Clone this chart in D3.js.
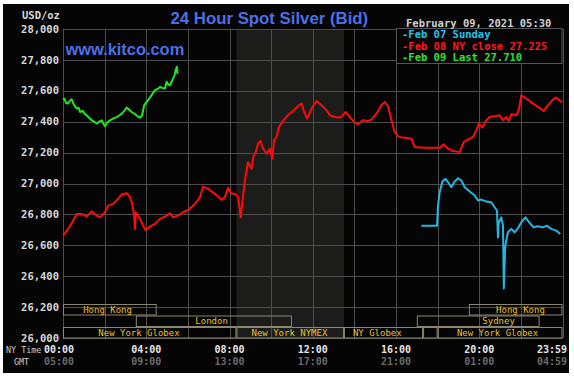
<!DOCTYPE html>
<html>
<head>
<meta charset="utf-8">
<script src="https://cdn.jsdelivr.net/npm/d3@7"></script>
<style>
  html, body { margin: 0; padding: 0; background: #ffffff; }
  svg { display: block; }
</style>
</head>
<body>
<svg id="chart" width="574" height="382"></svg>
<script>
// ---------- DATA ----------
const yTicks = [26000, 26200, 26400, 26600, 26800, 27000, 27200, 27400, 27600, 27800, 28000];
const xTickHours = [0, 4, 8, 12, 16, 20, 24];
const nyTimeLabels = ["00:00", "04:00", "08:00", "12:00", "16:00", "20:00", "23:59"];
const gmtLabels = ["05:00", "09:00", "13:00", "17:00", "21:00", "01:00", "04:59"];

// Feb 09 (green) – hours / USD
const greenHours = [0.00, 0.06, 0.15, 0.23, 0.33, 0.42, 0.52, 0.66, 0.75, 0.82, 0.95, 1.05, 1.14, 1.25, 1.38, 1.50, 1.62, 1.74, 1.86, 1.95, 2.02, 2.12, 2.26, 2.40, 2.58, 2.70, 2.82, 2.95, 3.06, 3.18, 3.30, 3.45, 3.58, 3.70, 3.80, 3.90, 4.00, 4.09, 4.25, 4.42, 4.55, 4.66, 4.78, 4.90, 4.98, 5.06, 5.14, 5.22, 5.29, 5.36, 5.41, 5.47, 5.50];
const greenValues = [27545, 27550, 27520, 27517, 27535, 27545, 27510, 27485, 27490, 27463, 27470, 27450, 27441, 27425, 27409, 27400, 27388, 27400, 27409, 27385, 27370, 27395, 27409, 27420, 27430, 27440, 27452, 27470, 27491, 27478, 27463, 27450, 27435, 27426, 27440, 27506, 27525, 27539, 27570, 27604, 27612, 27625, 27618, 27615, 27658, 27640, 27636, 27660, 27680, 27700, 27734, 27755, 27710];

// Feb 08 (red) – hours / USD
const redHours = [0.00, 0.06, 0.25, 0.49, 0.66, 0.90, 1.14, 1.38, 1.62, 1.78, 2.02, 2.17, 2.41, 2.65, 2.82, 3.06, 3.22, 3.33, 3.42, 3.46, 3.50, 3.70, 3.85, 3.97, 4.18, 4.42, 4.66, 4.90, 5.14, 5.29, 5.53, 5.77, 6.01, 6.34, 6.58, 6.73, 6.97, 7.30, 7.62, 7.78, 7.93, 8.10, 8.26, 8.42, 8.54, 8.63, 8.74, 8.89, 9.06, 9.14, 9.26, 9.37, 9.49, 9.62, 9.78, 9.94, 10.06, 10.14, 10.26, 10.38, 10.57, 10.81, 11.05, 11.29, 11.46, 11.62, 11.73, 11.94, 12.18, 12.42, 12.66, 12.82, 13.14, 13.38, 13.58, 13.78, 14.02, 14.17, 14.41, 14.65, 14.82, 15.06, 15.30, 15.46, 15.62, 15.78, 15.94, 16.10, 16.34, 16.74, 16.90, 17.30, 18.10, 18.29, 18.50, 18.73, 19.06, 19.25, 19.54, 19.70, 19.86, 19.98, 20.15, 20.34, 20.50, 20.74, 20.98, 21.14, 21.30, 21.42, 21.54, 21.78, 21.90, 22.02, 22.26, 22.58, 22.82, 23.09, 23.30, 23.54, 23.70, 23.89, 23.98];
const redValues = [26665, 26673, 26706, 26760, 26803, 26803, 26786, 26820, 26792, 26781, 26814, 26857, 26868, 26901, 26929, 26937, 26911, 26868, 26792, 26706, 26814, 26771, 26727, 26699, 26721, 26738, 26771, 26786, 26807, 26781, 26792, 26814, 26829, 26868, 26911, 26980, 26965, 26933, 26894, 26911, 26972, 26933, 26933, 26911, 26781, 26890, 27019, 27138, 27095, 27171, 27203, 27258, 27275, 27225, 27193, 27225, 27160, 27279, 27301, 27366, 27405, 27442, 27470, 27500, 27517, 27452, 27420, 27485, 27534, 27506, 27474, 27442, 27427, 27431, 27463, 27431, 27392, 27383, 27409, 27405, 27413, 27452, 27506, 27528, 27500, 27409, 27333, 27305, 27297, 27290, 27236, 27232, 27232, 27253, 27225, 27210, 27203, 27268, 27290, 27301, 27344, 27388, 27362, 27409, 27431, 27435, 27442, 27409, 27431, 27405, 27448, 27442, 27474, 27571, 27550, 27517, 27496, 27470, 27506, 27543, 27556, 27534, 27525];

// Feb 07 Sunday (cyan) – hours / USD
const cyanHours = [17.22, 17.97, 18.02, 18.10, 18.23, 18.38, 18.50, 18.66, 18.82, 18.98, 19.14, 19.30, 19.54, 19.78, 19.94, 20.10, 20.34, 20.58, 20.74, 20.85, 20.90, 20.94, 21.06, 21.14, 21.18, 21.25, 21.38, 21.54, 21.70, 21.86, 22.02, 22.22, 22.42, 22.61, 22.82, 23.06, 23.25, 23.46, 23.70, 23.89];
const cyanValues = [26727, 26727, 26857, 26944, 27013, 27030, 27008, 26976, 27013, 27034, 27019, 26976, 26948, 26922, 26890, 26896, 26883, 26879, 26846, 26825, 26651, 26749, 26781, 26727, 26320, 26597, 26684, 26706, 26684, 26710, 26749, 26781, 26745, 26716, 26723, 26716, 26727, 26706, 26695, 26673];

// Trading sessions
const sessionNames = ["Hong Kong", "London", "New York Globex", "New York NYMEX", "NY Globex", "", "Sydney", "Hong Kong", "New York Globex"];
const sessionStart = [0, 3.5, 0, 8.333, 13.5, 17.3, 17.0, 19.5, 18.0];
const sessionEnd = [4.5, 11.0, 8.333, 13.5, 17.3, 18.0, 22.9, 24.0, 24.0];
const sessionRow = [0, 1, 2, 2, 2, 2, 1, 0, 2];
const sessionLabelHour = [2.14, 7.14, 3.65, 10.88, 15.1, 17.65, 20.93, 21.98, 20.88];

const nymexShade = [8.333, 13.5];
const legendLabels = ["-Feb 07 Sunday", "-Feb 08 NY close 27.225", "-Feb 09 Last 27.710"];
const titleText = "24 Hour Spot Silver (Bid)";
const dateStamp = "February 09, 2021 05:30";

// ---------- DRAW ----------
const svg = d3.select("#chart");
const mono = "'DejaVu Sans Mono', 'Liberation Mono', monospace";
const sans = "'Liberation Sans', Arial, sans-serif";

const x = d3.scaleLinear().domain([0, 24]).range([63, 562.5]);
const y = d3.scaleLinear().domain([26000, 28000]).range([338, 29]);

// background
svg.append("rect").attr("x", 3).attr("y", 4).attr("width", 566).attr("height", 369).attr("fill", "#050505");

// NYMEX shade
svg.append("rect")
  .attr("x", x(nymexShade[0])).attr("y", y(28000))
  .attr("width", x(nymexShade[1]) - x(nymexShade[0]))
  .attr("height", y(26000) - y(28000))
  .attr("fill", "#1c1c1a");

// grid
const grid = svg.append("g").attr("stroke", "#4d4d4d").attr("stroke-width", 1);
grid.selectAll("line.h").data(yTicks).join("line")
  .attr("x1", x(0)).attr("x2", x(24))
  .attr("y1", d => Math.round(y(d)) + 0.5).attr("y2", d => Math.round(y(d)) + 0.5);
grid.selectAll("line.v").data(d3.range(0, 25, 2)).join("line")
  .attr("y1", y(28000)).attr("y2", y(26000))
  .attr("x1", d => Math.round(x(d)) + 0.5).attr("x2", d => Math.round(x(d)) + 0.5);

// y tick labels
svg.append("g").selectAll("text").data(yTicks).join("text")
  .attr("x", 59).attr("y", d => y(d))
  .attr("dy", "0.35em")
  .attr("text-anchor", "end")
  .attr("font-family", mono).attr("font-weight", "bold").attr("font-size", 10.5)
  .attr("fill", "#d8d8d8")
  .text(d => d3.format(",.3f")(d / 1000).replace(".", ","));

svg.append("text").attr("x", 22).attr("y", 19)
  .attr("font-family", mono).attr("font-weight", "bold").attr("font-size", 10.5)
  .attr("fill", "#d8d8d8").text("USD/oz");

// session boxes
const rowTop = [304, 315.5, 327];
const rowH = 11.5;
const sess = svg.append("g");
sessionNames.forEach((name, i) => {
  sess.append("rect")
    .attr("x", x(sessionStart[i]) + 0.5).attr("y", rowTop[sessionRow[i]] + 0.5)
    .attr("width", x(sessionEnd[i]) - x(sessionStart[i]) - 1)
    .attr("height", rowH - 1)
    .attr("fill", "none").attr("stroke", "#8c8670").attr("stroke-width", 1);
  if (name) {
    sess.append("text")
      .attr("x", x(sessionLabelHour[i]))
      .attr("y", rowTop[sessionRow[i]] + rowH / 2)
      .attr("dy", "0.36em")
      .attr("text-anchor", "middle")
      .attr("font-family", mono).attr("font-size", 9)
      .attr("fill", "#e8c030")
      .text(name);
  }
});

// lines
const line = d3.line().x(d => x(d[0])).y(d => y(d[1]));
const series = [
  { h: cyanHours, v: cyanValues, c: "#22b6e0" },
  { h: redHours, v: redValues, c: "#ff0a0a" },
  { h: greenHours, v: greenValues, c: "#22e622" }
];
series.forEach(s => {
  svg.append("path")
    .datum(s.h.map((h, i) => [h, s.v[i]]))
    .attr("d", line)
    .attr("fill", "none").attr("stroke", s.c)
    .attr("stroke-width", 2).attr("stroke-linejoin", "round");
});

// legend box
svg.append("rect").attr("x", 396.5).attr("y", 28.5).attr("width", 165.5).attr("height", 35)
  .attr("fill", "#050505").attr("stroke", "#555555");
const legColors = ["#22c4f0", "#ff1a1a", "#33e033"];
svg.append("g").selectAll("text").data(legendLabels).join("text")
  .attr("x", 402).attr("y", (d, i) => 34.7 + i * 11.3)
  .attr("dy", "0.36em")
  .attr("font-family", mono).attr("font-weight", "bold").attr("font-size", 10.5)
  .attr("fill", (d, i) => legColors[i])
  .text(d => d);

svg.append("text").attr("x", 406).attr("y", 26.5)
  .attr("font-family", mono).attr("font-weight", "bold").attr("font-size", 10.5)
  .attr("fill", "#d0d0d0").text(dateStamp);

// title + site
svg.append("text").attr("x", 170.5).attr("y", 24)
  .attr("font-family", sans).attr("font-weight", "bold").attr("font-size", 16.8)
  .attr("fill", "#4d6fe6").text(titleText);
svg.append("text").attr("x", 65.5).attr("y", 55)
  .attr("font-family", sans).attr("font-weight", "bold").attr("font-size", 16.4)
  .attr("fill", "#4d6fe6").text("www.kitco.com");

// x axis labels
const xl = svg.append("g");
xTickHours.forEach((h, i) => {
  const anchor = i === 0 ? "start" : (i === xTickHours.length - 1 ? "end" : "middle");
  const px = i === 0 ? 44 : (i === xTickHours.length - 1 ? 567 : x(h));
  xl.append("text").attr("x", px).attr("y", 349.8).attr("dy", "0.36em")
    .attr("text-anchor", anchor)
    .attr("font-family", mono).attr("font-weight", "bold").attr("font-size", 10)
    .attr("fill", "#e6e6e6").text(nyTimeLabels[i]);
  xl.append("text").attr("x", px).attr("y", 361.8).attr("dy", "0.36em")
    .attr("text-anchor", anchor)
    .attr("font-family", mono).attr("font-weight", "bold").attr("font-size", 10)
    .attr("fill", "#6a6a6a").text(gmtLabels[i]);
});
svg.append("text").attr("x", 6).attr("y", 349.8).attr("dy", "0.36em")
  .attr("font-family", mono).attr("font-size", 8.4).attr("fill", "#cfcfcf").text("NY Time");
svg.append("text").attr("x", 14).attr("y", 361.8).attr("dy", "0.36em")
  .attr("font-family", mono).attr("font-size", 8.4).attr("fill", "#cfcfcf").text("GMT");
</script>
</body>
</html>
